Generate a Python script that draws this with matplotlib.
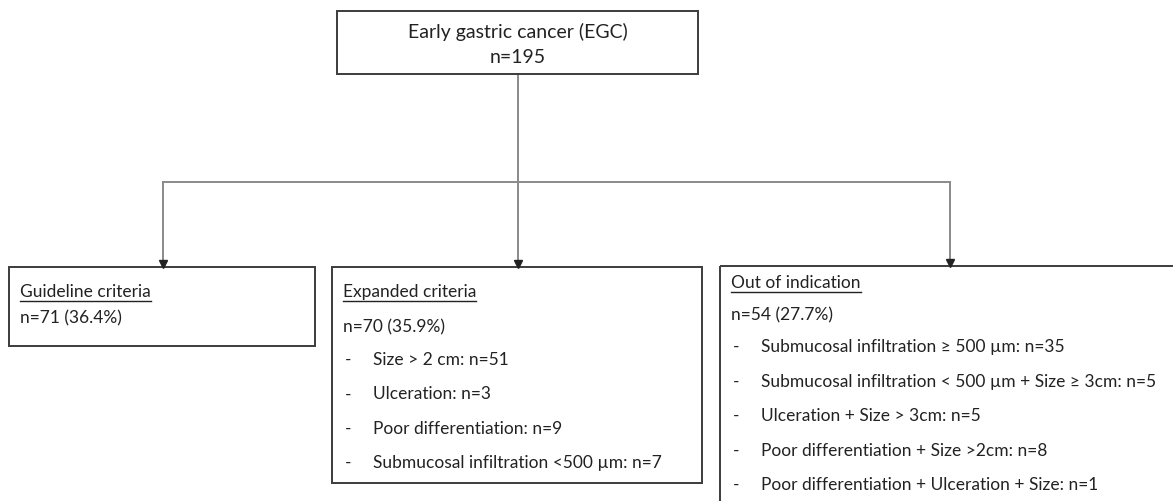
import matplotlib
matplotlib.use('Agg')
import matplotlib.pyplot as plt
from matplotlib.patches import Rectangle

plt.rcParams['font.family'] = ['Lato', 'DejaVu Sans']

W, H = 1173, 501

top_title = 'Early gastric cancer (EGC)'
top_n = 'n=195'

box_titles = ['Guideline criteria', 'Expanded criteria', 'Out of indication']
box_counts = ['n=71 (36.4%)', 'n=70 (35.9%)', 'n=54 (27.7%)']
box_items = [
    [],
    ['Size > 2 cm: n=51',
     'Ulceration: n=3',
     'Poor differentiation: n=9',
     'Submucosal infiltration <500 µm: n=7'],
    ['Submucosal infiltration ≥ 500 µm: n=35',
     'Submucosal infiltration < 500 µm + Size ≥ 3cm: n=5',
     'Ulceration + Size > 3cm: n=5',
     'Poor differentiation + Size >2cm: n=8',
     'Poor differentiation + Ulceration + Size: n=1'],
]

# layout in pixels (x0, y0, x1, y1), y grows downward
top_box = (337, 11, 698, 74)
boxes = [(9, 267, 315, 346), (332, 267, 702, 483), (720, 266, 1185, 520)]
arrow_x = [163, 518, 950]
branch_y = 182
title_y = [292, 292, 283]
count_y = [318, 327, 315]
item_y0 = [None, 360, 347]
item_dy = [None, 34.3, 34.5]
text_x = [20, 343, 731]
fs = 12.5

fig = plt.figure(figsize=(W / 100, H / 100), dpi=100)
ax = fig.add_axes([0, 0, 1, 1])
ax.set_xlim(0, W)
ax.set_ylim(H, 0)
ax.axis('off')

box_col = '#3c3c3c'
line_col = '#8a8a8a'
txt_col = '#222222'


def draw_box(b):
    ax.add_patch(Rectangle((b[0], b[1]), b[2] - b[0], b[3] - b[1],
                           fill=False, ec=box_col, lw=1.4, zorder=3))


draw_box(top_box)
cx = (top_box[0] + top_box[2]) / 2
ax.text(cx, 32, top_title, ha='center', va='center', fontsize=14, color=txt_col)
ax.text(cx, 57, top_n, ha='center', va='center', fontsize=14, color=txt_col)

# connectors
ax.plot([arrow_x[1], arrow_x[1]], [top_box[3], branch_y], color=line_col, lw=1.4)
ax.plot([arrow_x[0], arrow_x[2]], [branch_y, branch_y], color=line_col, lw=1.4)
for i, x in enumerate(arrow_x):
    ax.plot([x, x], [branch_y, boxes[i][1] - 4], color=line_col, lw=1.4)
    ax.plot(x, boxes[i][1] - 3.5, marker='v', ms=6, color='#222222', zorder=4)

fig.canvas.draw()
renderer = fig.canvas.get_renderer()
inv = ax.transData.inverted()

for i, b in enumerate(boxes):
    draw_box(b)
    t = ax.text(text_x[i], title_y[i], box_titles[i], ha='left', va='center',
                fontsize=fs, color=txt_col)
    bb = t.get_window_extent(renderer)
    (x0, _), (x1, _) = inv.transform([(bb.x0, bb.y0), (bb.x1, bb.y0)])
    ax.plot([x0, x1], [title_y[i] + 8.5, title_y[i] + 8.5], color=txt_col, lw=1.0)
    ax.text(text_x[i], count_y[i], box_counts[i], ha='left', va='center',
            fontsize=fs, color=txt_col)
    for j, item in enumerate(box_items[i]):
        y = item_y0[i] + j * item_dy[i]
        ax.text(text_x[i] + 2, y, '-', ha='left', va='center', fontsize=fs,
                color=txt_col)
        ax.text(text_x[i] + 30, y, item, ha='left', va='center', fontsize=fs,
                color=txt_col)

fig.savefig('out.png', dpi=100, facecolor='white')
